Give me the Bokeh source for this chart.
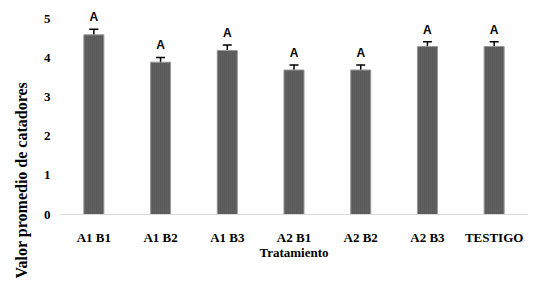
import math
from bokeh.plotting import figure
from bokeh.models import ColumnDataSource, Whisker, FixedTicker, Title
from bokeh.core.properties import value
from bokeh.embed import file_html
from bokeh.resources import INLINE

tratamientos = ["A1 B1", "A1 B2", "A1 B3", "A2 B1", "A2 B2", "A2 B3", "TESTIGO"]
promedios = [4.6, 3.9, 4.2, 3.7, 3.7, 4.3, 4.3]
errores = [0.14, 0.12, 0.14, 0.13, 0.13, 0.12, 0.12]
letras = ["A", "A", "A", "A", "A", "A", "A"]
y_ticks = [0, 1, 2, 3, 4, 5]

src = ColumnDataSource(dict(
    x=tratamientos, y=promedios,
    lo=[v - e for v, e in zip(promedios, errores)],
    hi=[v + e for v, e in zip(promedios, errores)],
    lab=letras,
))

p = figure(x_range=tratamientos, y_range=(0, 5.3), width=533, height=286,
           output_backend="svg", toolbar_location=None,
           min_border_left=58, min_border_right=6, min_border_top=7, min_border_bottom=72)
p.outline_line_color = None
p.xgrid.grid_line_color = None
p.ygrid.grid_line_color = None
p.background_fill_color = "white"
p.border_fill_color = "white"

p.vbar(x="x", top="y", width=0.3, source=src, fill_color="#5a5a5a",
       line_color="#999999", line_width=1, hatch_pattern="|", hatch_color="#646464",
       hatch_scale=2, hatch_weight=1)

w = Whisker(base="x", lower="lo", upper="hi", source=src, line_color="black", line_width=1.5)
w.upper_head.size = 9
w.lower_head.size = 9
w.upper_head.line_width = 1.5
w.lower_head.line_width = 1.5
p.add_layout(w)

p.text(x="x", y="hi", text="lab", source=src, text_align="center", text_baseline="bottom",
       y_offset=-5, text_font=value("Liberation Sans"), text_font_style="bold",
       text_font_size="12px", text_color="black")

p.yaxis.ticker = FixedTicker(ticks=y_ticks)
p.yaxis.axis_line_color = None
p.yaxis.major_tick_line_color = None
p.yaxis.minor_tick_line_color = None
p.yaxis.major_label_standoff = 4
p.yaxis.major_label_text_font = "Liberation Serif"
p.yaxis.major_label_text_font_style = "bold"
p.yaxis.major_label_text_font_size = "13px"
p.yaxis.major_label_text_color = "black"

p.xaxis.axis_line_color = "#d9d9d9"
p.xaxis.axis_line_width = 1
p.xaxis.major_tick_line_color = None
p.xaxis.minor_tick_line_color = None
p.xaxis.major_label_standoff = 9
p.xaxis.major_label_text_font = "Liberation Serif"
p.xaxis.major_label_text_font_style = "bold"
p.xaxis.major_label_text_font_size = "13px"
p.xaxis.major_label_text_color = "black"
p.xaxis.axis_label = "Tratamiento"
p.xaxis.axis_label_standoff = -3
p.xaxis.axis_label_text_font = "Liberation Serif"
p.xaxis.axis_label_text_font_style = "bold"
p.xaxis.axis_label_text_font_size = "13px"
p.xaxis.axis_label_text_color = "black"

ytitle = Title(text="Valor promedio de catadores", align="left", offset=-64,
               standoff=21, text_font="Liberation Serif", text_font_style="bold",
               text_font_size="16px", text_color="black")
p.add_layout(ytitle, "left")

open("out.html", "w").write(file_html(p, INLINE))
